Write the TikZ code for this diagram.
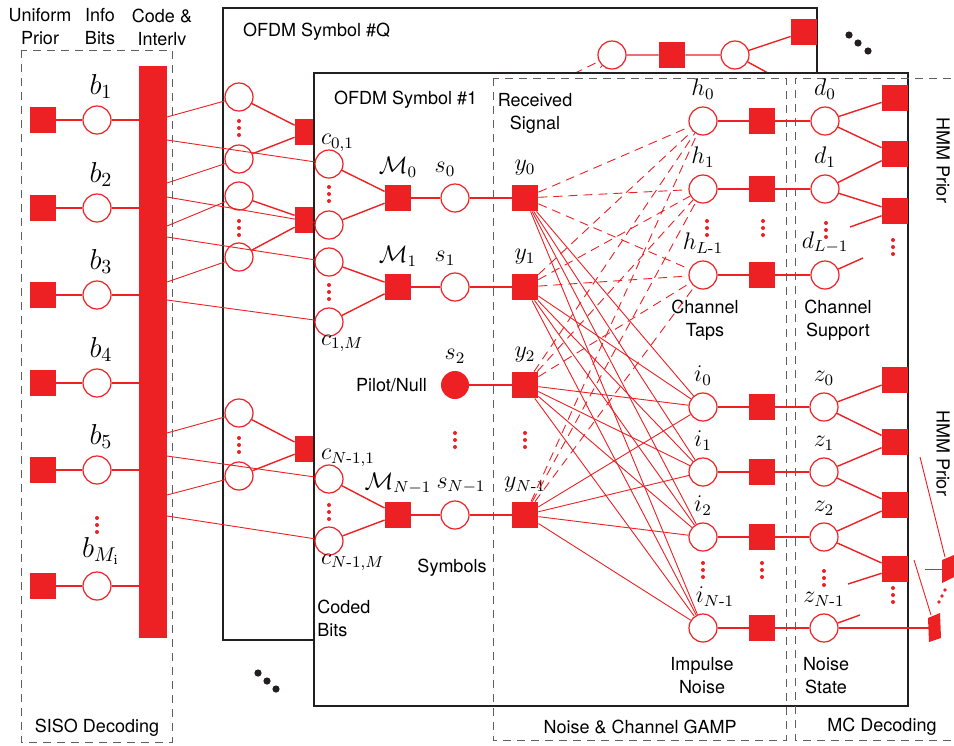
\documentclass[tikz,border=0pt]{standalone}
\usepackage{amsmath}
\usepackage{fontspec}
\setsansfont{TeX Gyre Heros}
\usetikzlibrary{positioning}
\definecolor{fgred}{RGB}{237,32,36}
\definecolor{boxgray}{RGB}{35,31,32}
\definecolor{dashgray}{RGB}{95,95,95}
\newcommand{\reddots}[2]{\foreach \k in {-7,0,7}{\fill[fgred] (#1,{#2+(\k)}) circle (1pt);}}

\begin{document}
\begin{tikzpicture}[x=0.5pt,y=-0.5pt,
  every node/.style={font=\sffamily\fontsize{9}{11.5}\selectfont},
  var/.style={circle,draw=fgred,line width=0.6pt,fill=white,minimum size=14pt,inner sep=0pt},
  obs/.style={circle,fill=fgred,minimum size=14pt,inner sep=0pt},
  fac/.style={rectangle,fill=fgred,minimum size=13pt,inner sep=0pt},
  wire/.style={draw=fgred,line width=0.45pt},
  link/.style={draw=fgred,line width=0.7pt},
  dwire/.style={wire,dash pattern=on 4.5pt off 3pt},
  symbox/.style={draw=boxgray,line width=1pt,fill=white},
  zone/.style={draw=dashgray,line width=0.5pt,dash pattern=on 4pt off 3pt},
  lab/.style={font=\fontsize{12}{14}\selectfont},
  blab/.style={font=\fontsize{14}{16}\selectfont},
  txt/.style={align=center,inner sep=0pt}]
  \useasboundingbox (0,0) rectangle (954,745);

  % SISO decoding
  \node[txt] (hdprior) at (40,27) {Uniform\\Prior};
  \node[txt] (hdinfo) at (100,27) {Info\\Bits};
  \node[txt] (hdcode) at (162,27) {Code \&\\Interlv};
  \draw[zone] (21,50) rectangle (172,742);
  \node (siso) at (97,728) {SISO Decoding};
  \foreach \y/\n in {120/1,208/2,295/3,383/4,470/5} {
    \node[fac] (u\n) at (43,\y) {};
    \node[var,label={[blab,xshift=2pt]above:$b_\n$}] (b\n) at (97,\y) {};
  }
  \node[fac] (u6) at (43,586) {};
  \node[var,label={[blab,xshift=2pt]above:$b_{M_\mathrm{i}}$}] (b6) at (97,586) {};
  \reddots{97}{525}
  \node[fill=fgred,minimum width=14pt,minimum height=286pt,inner sep=0pt] (enc) at (153,352) {};
  \foreach \n in {1,...,6}
    \draw[link] (u\n) -- (b\n) -- (b\n -| enc.west);

  % OFDM symbol #Q
  \draw[symbox] (223,8) rectangle (817,640);
  \node[anchor=west] (titleq) at (236,32) {OFDM Symbol \#Q};
  \foreach \y [count=\n] in {97,159,196,257,413,476}
    \node[var] (q\n) at (239,\y) {};
  \foreach \y [count=\n] in {132,220,449}
    \node[fac] (qf\n) at (308,\y) {};
  \draw[link] (q1) -- (qf1) -- (q2);
  \draw[link] (q3) -- (qf2) -- (q4);
  \draw[link] (q5) -- (qf3) -- (q6);
  \reddots{239}{128}
  \reddots{239}{228}
  \reddots{239}{445}
  \node[var] (qs) at (612,55) {};
  \node[fac] (qm) at (672,55) {};
  \node[var] (qh) at (735,55) {};
  \node[fac] (qp) at (804,32) {};
  \coordinate (qo) at (790,85);
  \draw[link] (qs) -- (qm) -- (qh) -- (qp);
  \draw[link] (qh) -- (qo);
  \foreach \x/\y [count=\n] in {520/100,560/112,588/110}
    \coordinate (qd\n) at (\x,\y);
  \foreach \n in {1,2,3}
    \draw[dwire] (qd\n) -- (qs);
  \fill[boxgray] (849,35) circle (1.8pt) (858,43) circle (1.8pt) (868,51) circle (1.8pt);
  \fill[boxgray] (258,673) circle (1.8pt) (267,681) circle (1.8pt) (276,689) circle (1.8pt);

  % OFDM symbol #1
  \draw[symbox] (314,73) rectangle (908,706);
  \draw[zone] (493,78) rectangle (786,740);
  \draw[zone] (965,78) -- (795,78) -- (795,740) -- (965,740);
  \node[anchor=west] (title1) at (327,100) {OFDM Symbol \#1};
  \node[txt] (rxsig) at (535,113) {Received\\Signal};
  \node (gamp) at (640,727) {Noise \& Channel GAMP};
  \node (mcdec) at (882,727) {MC Decoding};

  \node[var,label={[lab,anchor=south west,inner sep=1pt]north west:$c_{0,1}$}] (c1) at (329,164) {};
  \node[var] (c2) at (329,225) {};
  \node[var] (c3) at (329,262) {};
  \node[var,label={[lab,anchor=north west,inner sep=1pt]south west:$c_{1,M}$}] (c4) at (329,322) {};
  \node[var,label={[lab,anchor=south west,inner sep=1pt]north west:$c_{N\text{-}1,1}$}] (c5) at (329,479) {};
  \node[var,label={[lab,anchor=north west,inner sep=1pt]south west:$c_{N\text{-}1,M}$}] (c6) at (329,541) {};
  \reddots{329}{194}
  \reddots{329}{292}
  \reddots{329}{512}
  \node[txt,anchor=west,align=left] (coded) at (317,618) {Coded\\Bits};

  \node[fac,label={[lab]above:$\mathcal{M}_0$}] (m0) at (398,198) {};
  \node[fac,label={[lab]above:$\mathcal{M}_1$}] (m1) at (398,287) {};
  \node[fac,label={[lab]above:$\mathcal{M}_{N-1}$}] (m3) at (398,515) {};
  \node[var,label={[lab,xshift=-5pt]above:$s_0$}] (s0) at (455,198) {};
  \node[var,label={[lab,xshift=-5pt]above:$s_1$}] (s1) at (455,287) {};
  \node[obs,label={[lab]above:$s_2$}] (s2) at (455,385) {};
  \node[var,label={[lab,xshift=3pt]above:$s_{N-1}$}] (s3) at (455,515) {};
  \node[anchor=east] (pilot) at (434,385) {Pilot/Null};
  \node (symb) at (452,568) {Symbols};
  \reddots{455}{440}
  \foreach \y [count=\n from 0] in {198,287,385,515}
    \node[fac] (y\n) at (525,\y) {};
  \node[lab,above=1pt of y0] (ly0) {$y_0$};
  \node[lab,above=1pt of y1] (ly1) {$y_1$};
  \node[lab,above=1pt of y2] (ly2) {$y_2$};
  \node[lab,above=1pt of y3] (ly3) {$y_{N\text{-}1}$};
  \reddots{525}{440}
  \draw[link] (c1) -- (m0) -- (c2);
  \draw[link] (c3) -- (m1) -- (c4);
  \draw[link] (c5) -- (m3) -- (c6);
  \draw[link] (m0) -- (s0) -- (y0);
  \draw[link] (m1) -- (s1) -- (y1);
  \draw[link] (s2) -- (y2);
  \draw[link] (m3) -- (s3) -- (y3);

  % channel taps and support
  \node[var,label={[lab]above:$h_0$}] (h0) at (703,121) {};
  \node[var,label={[lab]above:$h_1$}] (h1) at (703,189) {};
  \node[var,label={[lab]above:$h_{L\text{-}1}$}] (h2) at (703,275) {};
  \node[var,label={[lab]above:$d_0$}] (d0) at (825,121) {};
  \node[var,label={[lab]above:$d_1$}] (d1) at (825,189) {};
  \node[var,label={[lab]above:$d_{L-1}$}] (d2) at (825,275) {};
  \foreach \y [count=\n from 0] in {121,189,275} {
    \node[fac] (hf\n) at (762,\y) {};
    \draw[link] (h\n) -- (hf\n) -- (d\n);
  }
  \foreach \y [count=\n] in {98,154,211}
    \node[fac] (hm\n) at (895,\y) {};
  \coordinate (hx) at (850,227);
  \coordinate (hy) at (863,258);
  \draw[link] (d0) -- (hm1); \draw[link] (d0) -- (hm2);
  \draw[link] (d1) -- (hm2); \draw[link] (d1) -- (hm3);
  \draw[link] (hx) -- (hm3); \draw[link] (d2) -- (hy);
  \reddots{707}{228}
  \reddots{763}{228}
  \reddots{826}{230}
  \reddots{893}{247}
  \node[txt] (taps) at (705,320) {Channel\\Taps};
  \node[txt] (supp) at (838,320) {Channel\\Support};
  \node[rotate=-90] (hmm1) at (943,160) {HMM Prior};

  % impulse noise and noise state
  \node[var,label={[lab]above:$i_0$}] (i0) at (703,407) {};
  \node[var,label={[lab]above:$i_1$}] (i1) at (703,472) {};
  \node[var,label={[lab]above:$i_2$}] (i2) at (703,537) {};
  \node[var,label={[lab,xshift=6pt]above:$i_{N\text{-}1}$}] (i3) at (703,628) {};
  \node[var,label={[lab]above:$z_0$}] (z0) at (824,407) {};
  \node[var,label={[lab]above:$z_1$}] (z1) at (824,472) {};
  \node[var,label={[lab]above:$z_2$}] (z2) at (824,537) {};
  \node[var,label={[lab]above:$z_{N\text{-}1}$}] (z3) at (824,628) {};
  \foreach \y [count=\n from 0] in {407,472,537,628} {
    \node[fac] (if\n) at (762,\y) {};
    \draw[link] (i\n) -- (if\n) -- (z\n);
  }
  \foreach \y [count=\n] in {380,442,505,569}
    \node[fac] (zm\n) at (895,\y) {};
  \coordinate (zx) at (848,584);
  \coordinate (zy) at (860,615);
  \draw[link] (z0) -- (zm1); \draw[link] (z0) -- (zm2);
  \draw[link] (z1) -- (zm2); \draw[link] (z1) -- (zm3);
  \draw[link] (z2) -- (zm3); \draw[link] (z2) -- (zm4);
  \draw[link] (zx) -- (zm4); \draw[link] (z3) -- (zy);
  \reddots{703}{570}
  \reddots{762}{570}
  \reddots{824}{578}
  \reddots{893}{595}
  \node[txt] (impn) at (702,676) {Impulse\\Noise};
  \node[txt] (nstate) at (826,676) {Noise\\State};
  \node[rotate=-90] (hmm2) at (943,453) {HMM Prior};

  % next symbol, seen from the side
  \fill[fgred] (942,560) -- (954,555) -- (954,577) -- (942,583) -- cycle;
  \fill[fgred] (928,618) -- (940,613) -- (941,638) -- (929,642) -- cycle;
  \coordinate (ta) at (920,457); \coordinate (tb) at (945,557);
  \coordinate (tc) at (925,569); \coordinate (td) at (942,569);
  \coordinate (te) at (914,560); \coordinate (tf) at (931,615);
  \coordinate (tz) at (929,628);
  \draw[wire] (ta) -- (tb);
  \draw[wire] (tc) -- (td);
  \draw[wire] (te) -- (tf);
  \draw[link] (z3) -- (tz);
  \fill[fgred] (945,590) circle (0.9pt) (942,596) circle (0.9pt) (939,602) circle (0.9pt);

  % GAMP connections
  \foreach \a in {y0,y1,y2,y3}
    \foreach \b in {h0,h1,h2}
      \draw[dwire] (\a) -- (\b);
  \foreach \a in {y0,y1,y2,y3}
    \foreach \b in {i0,i1,i2,i3}
      \draw[wire] (\a) -- (\b);

  % code and interleaver to coded bits
  \foreach \y [count=\k] in {117,140,183,197,226,237,282,300,433,456,495,516}
    \coordinate (p\k) at (167,\y);
  \foreach \k/\t in {1/q1,2/c1,3/q2,4/c2,5/q3,6/c3,7/q4,8/c4,9/q5,10/c5,11/q6,12/c6}
    \draw[wire] (p\k) -- (\t);
\end{tikzpicture}
\end{document}
